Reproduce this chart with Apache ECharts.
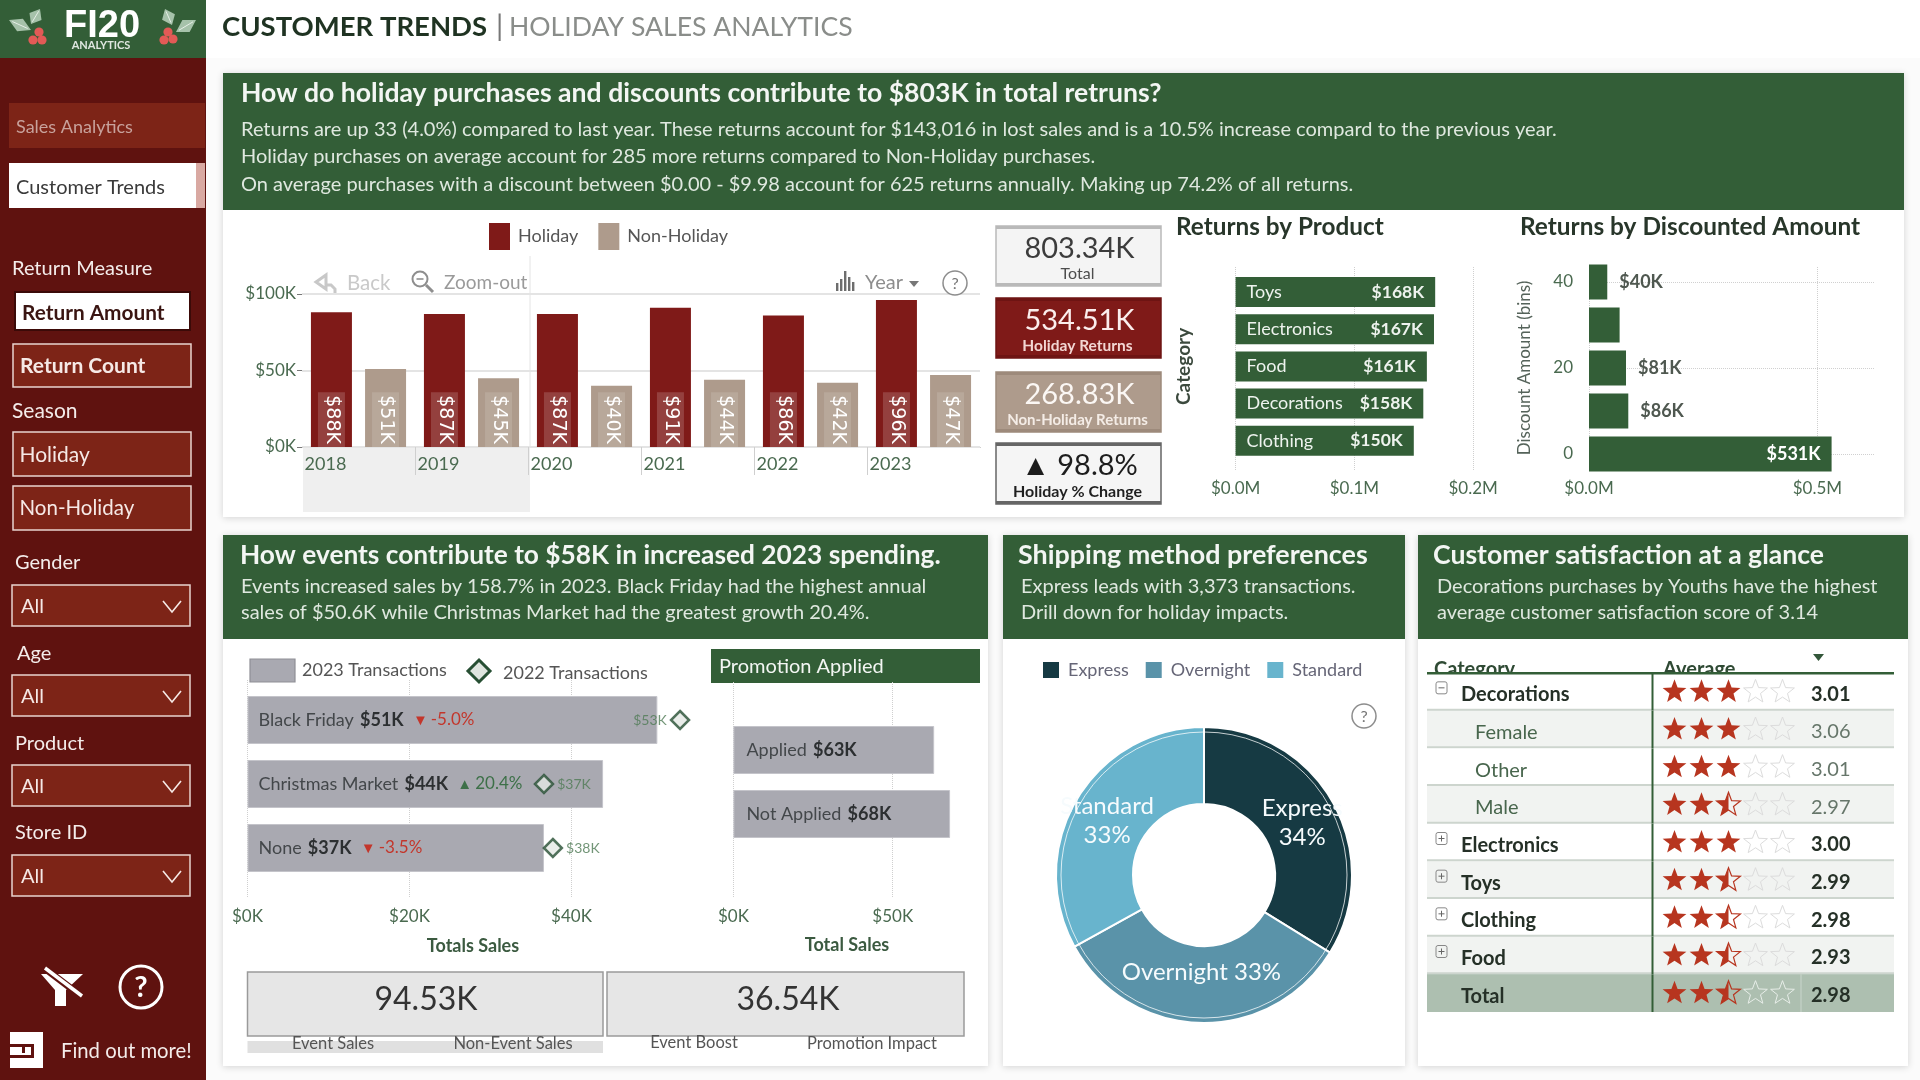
<!DOCTYPE html>
<html>
<head>
<meta charset="utf-8">
<title>Customer Trends | Holiday Sales Analytics</title>
<style>html,body{margin:0;padding:0;background:#fbfbfb}#chart{width:1920px;height:1080px}</style>
<script src="https://cdn.jsdelivr.net/npm/echarts@6/dist/echarts.min.js"></script>
</head>
<body>
<div id="chart"></div>
<script>
// Yearly returns, thousands of dollars
const years = ['2018', '2019', '2020', '2021', '2022', '2023'];
const holidayReturns = [88, 87, 87, 91, 86, 96];
const nonHolidayReturns = [51, 45, 40, 44, 42, 47];

// Returns by product, millions of dollars
const productNames = ['Toys', 'Electronics', 'Food', 'Decorations', 'Clothing'];
const productReturns = [0.168, 0.167, 0.161, 0.158, 0.150];

// Returns by discount bin, millions of dollars
const discountBins = ['0', '10', '20', '30', '40'];
const discountReturns = [0.531, 0.086, 0.081, 0.067, 0.040];

// Event sales, thousands of dollars
const eventNames = ['Black Friday', 'Christmas Market', 'None'];
const sales2023 = [50.6, 43.9, 36.6];
const sales2022 = [53.4, 36.6, 37.7];
const eventChange = [-5.0, 20.4, -3.5];

// Sales with and without a promotion, thousands of dollars
const promoNames = ['Applied', 'Not Applied'];
const promoSales = [63, 68];

// Transactions per shipping method
const shipNames = ['Express', 'Overnight', 'Standard'];
const shipCounts = [3373, 3313, 3299];

// Satisfaction table
const tableRows = ['Decorations', 'Female', 'Other', 'Male', 'Electronics', 'Toys', 'Clothing', 'Food', 'Total'];
const tableAverage = [3.01, 3.06, 3.01, 2.97, 3.00, 2.99, 2.98, 2.93, 2.98];
const tableLevel = [0, 1, 1, 1, 0, 0, 0, 0, 2];

// Filter names shown in the side panel
const slicerNames = ['Gender', 'Age', 'Product', 'Store ID'];

const GREEN = '#335e37', RED = '#7f1a18', TAN = '#ae9b8c', SIDE = '#5f120f', BTN = '#7d2417', GREY = '#a9a9b1';
const FONT = 'Lato, "Noto Sans", sans-serif';

const g = [];
function T(text, x, y, size, fill, opt) {
  opt = opt || {};
  g.push({ type: 'text', z: opt.z === undefined ? 4 : opt.z, silent: true,
    style: { text, x, y, fill, font: (opt.weight || 'normal') + ' ' + size + 'px ' + (opt.font || FONT),
      textAlign: opt.align || 'left', textVerticalAlign: 'middle' } });
}
function R(x, y, w, h, fill, stroke, lw, opt) {
  opt = opt || {};
  g.push({ type: 'rect', z: opt.z === undefined ? -2 : opt.z, silent: true, shape: { x, y, width: w, height: h },
    style: Object.assign({ fill, stroke: stroke || null, lineWidth: lw || 0 }, opt.style || {}) });
}
function L(points, stroke, lw, opt) {
  opt = opt || {};
  g.push({ type: 'polyline', z: opt.z === undefined ? 3 : opt.z, silent: true, shape: { points }, style: { stroke, lineWidth: lw, fill: null } });
}
function P(points, fill, opt) {
  opt = opt || {};
  g.push({ type: 'polygon', z: opt.z === undefined ? 3 : opt.z, silent: true, shape: { points }, style: { fill, stroke: opt.stroke || null, lineWidth: opt.lw || 0 } });
}
function C(cx, cy, r, fill, stroke, lw, z) {
  g.push({ type: 'circle', z: z === undefined ? 3 : z, silent: true, shape: { cx, cy, r }, style: { fill: fill || null, stroke: stroke || null, lineWidth: lw || 0 } });
}
function leaf(ax, ay, bx, by, w) {
  const dx = bx - ax, dy = by - ay, n = Math.hypot(dx, dy), ox = -dy / n * w, oy = dx / n * w;
  P([[ax, ay], [ax + dx * .5 + ox, ay + dy * .5 + oy], [bx, by], [ax + dx * .5 - ox, ay + dy * .5 - oy]], '#a6c2aa');
  L([[ax + dx * .15, ay + dy * .15], [ax + dx * .85, ay + dy * .85]], '#e6efe7', 1);
}
function helpMark(cx, cy, r) {
  C(cx, cy, r, '#fff', '#8d8d8d', 1.5);
  T('?', cx, cy + 1, r * 1.35, '#777', { align: 'center' });
}

// Page frame and side panel
R(0, 0, 1920, 58, '#ffffff', null, 0, { z: -6 });
R(0, 0, 206, 1080, SIDE, null, 0, { z: -3 });
R(0, 0, 206, 58, GREEN, null, 0);
T('CUSTOMER TRENDS', 222, 27, 27.5, '#1f3322', { weight: 'bold' });
T('|', 496, 27, 29, '#777');
T('HOLIDAY SALES ANALYTICS', 509, 27, 26.6, '#8a8d8a');

// Logo
T('FI20', 102, 27, 38, '#fff', { weight: 'bold', align: 'center', font: '"Liberation Sans"' });
T('ANALYTICS', 101, 45, 11, '#dfe7e0', { weight: 'bold', align: 'center' });
leaf(9, 20, 31, 30, 7); leaf(31, 24, 40, 9, 7);
leaf(196, 20, 176, 32, 7); leaf(172, 25, 165, 9, 7);
[[39, 32], [33, 40], [42, 40], [168, 32], [164, 40], [173, 39]].forEach(b => C(b[0], b[1], 4.6, '#e25a56'));

// Side panel navigation and slicers
R(9, 103, 196, 45, BTN);
T('Sales Analytics', 16, 127, 18, '#c8a29c');
R(9, 163, 196, 45, '#ffffff');
R(196, 163, 9, 45, '#d9a9a2');
T('Customer Trends', 16, 188, 20, '#3a3a3a');
T('Return Measure', 12, 269, 20, '#f4ecea');
R(15, 292, 175, 38, '#ffffff', '#3b0a08', 2);
T('Return Amount', 22, 313, 20.8, '#3a1512', { weight: 'bold' });
R(13, 344, 178, 43, BTN, '#e9d3cf', 1.5);
T('Return Count', 20, 366, 21, '#f6e9e6', { weight: 'bold' });
T('Season', 12, 411, 21, '#f4ecea');
R(13, 432, 178, 44, BTN, '#e9d3cf', 1.5);
T('Holiday', 19.5, 455, 21, '#f6e9e6');
R(13, 486, 178, 44, BTN, '#e9d3cf', 1.5);
T('Non-Holiday', 19.5, 508, 20.5, '#f6e9e6');
slicerNames.forEach((name, i) => {
  const top = [585, 675, 765, 855][i], tx = [15, 17, 15, 15][i], ty = [563, 654, 744, 833][i];
  T(name, tx, ty, 20, '#f4ecea');
  R(12, top, 178, 41, BTN, '#e9d3cf', 1.5);
  T('All', 21, top + 22, 20, '#f6e9e6');
  L([[163, top + 16], [172, top + 27], [181, top + 16]], '#f6e9e6', 1.6);
});

// Clear-filter and help icons, report link
P([[41, 974], [83, 974], [66, 990], [66, 1006], [55, 1006], [55, 990]], '#fff');
L([[43, 967], [81, 996]], SIDE, 7);
L([[45, 968], [82, 996]], '#fff', 3.5);
C(141, 987, 21, null, '#fff', 3);
T('?', 141, 988, 29, '#fff', { weight: 'bold', align: 'center' });
R(10, 1032, 33, 36, '#fff');
R(10, 1044, 24, 3, SIDE, null, 0, { z: 1 }); R(22, 1047, 3, 6, SIDE, null, 0, { z: 1 });
R(10, 1055, 24, 3, SIDE, null, 0, { z: 1 }); R(31, 1047, 3, 8, SIDE, null, 0, { z: 1 });
T('Find out more!', 61, 1051, 20.3, '#f4ecea');

// Report panels
const shadow = { shadowBlur: 7, shadowColor: 'rgba(0,0,0,.16)', shadowOffsetY: 1 };
function panel(x, y, w, h, head) {
  R(x, y, w, h, '#ffffff', null, 0, { z: -4, style: shadow });
  R(x, y, w, head, GREEN, null, 0, { z: -3 });
}
panel(223, 73, 1681, 444, 137);
panel(223, 535, 765, 531, 104);
panel(1003, 535, 402, 531, 104);
panel(1418, 535, 490, 531, 104);

const HEAD = '#f3f6f3', SUB = '#dfe8df', HS = 26.6, SS = 20;
T('How do holiday purchases and discounts contribute to $803K in total retruns?', 241, 93, HS, HEAD, { weight: 'bold' });
T('Returns are up 33 (4.0%) compared to last year. These returns account for $143,016 in lost sales and is a 10.5% increase compard to the previous year.', 241, 129.5, SS, SUB);
T('Holiday purchases on average account for 285 more returns compared to Non-Holiday purchases.', 241, 157, SS, SUB);
T('On average purchases with a discount between $0.00 - $9.98 account for 625 returns annually. Making up 74.2% of all returns.', 241, 184.5, SS, SUB);
T('How events contribute to $58K in increased 2023 spending.', 240, 555.5, 26.3, HEAD, { weight: 'bold' });
T('Events increased sales by 158.7% in 2023. Black Friday had the highest annual', 241, 587, SS, SUB);
T('sales of $50.6K while Christmas Market had the greatest growth 20.4%.', 241, 613, SS, SUB);
T('Shipping method preferences', 1018, 555.5, 26.9, HEAD, { weight: 'bold' });
T('Express leads with 3,373 transactions.', 1021, 587, SS, SUB);
T('Drill down for holiday impacts.', 1021, 613, SS, SUB);
T('Customer satisfaction at a glance', 1433, 555.5, HS, HEAD, { weight: 'bold' });
T('Decorations purchases by Youths have the highest', 1437, 587, SS, SUB);
T('average customer satisfaction score of 3.14', 1437, 613, SS, SUB);

// Drill selection band and visual toolbar
R(303, 447, 227, 65, '#efefef', null, 0, { z: -1 });
L([[530, 256], [530, 447]], '#e4e4e4', 1, { z: -1 });
L([[326, 287], [326, 275], [316, 282], [326, 289], [326, 285], [331, 285], [335, 289], [335, 293]], '#c8c8c8', 3);
T('Back', 347, 283, 20.5, '#c9c9c9');
C(420, 279, 7.5, '#fff', '#8e8e8e', 2);
L([[416.5, 279], [423.5, 279]], '#8e8e8e', 1.6);
L([[426, 285], [433, 292]], '#8e8e8e', 3);
T('Zoom-out', 444, 283, 19, '#9a9a9a');
[[836, 8], [840, 12], [844, 20], [848, 14], [852, 9]].forEach(b => R(b[0], 291 - b[1], 2.4, b[1], '#6d6d6d', null, 0, { z: 3 }));
T('Year', 865, 283, 20, '#8d8d8d');
P([[909, 281], [919, 281], [914, 287]], '#777');
helpMark(955, 283, 12);
// The year axis has no tick at its two outer edges
R(300, 448, 3, 30, '#ffffff', null, 0, { z: 8 });
R(977, 448, 6, 30, '#ffffff', null, 0, { z: 8 });

// KPI cards
function kpi(x, y, w, h, fill, value, label, color, lab, border, tw, weight) {
  R(x, y, w, h, fill, border, 1.5, { z: -1 });
  R(x, y, w, 3, border, null, 0, { z: -1 });
  R(x, y + h - 3, w, 3, border, null, 0, { z: -1 });
  T(value, x + w / 2 + 1, y + 23, 29, color, { align: 'center' });
  T(label, x + w / 2 - 1, y + h - 12, tw, lab, { align: 'center', weight });
}
kpi(996, 226, 165, 60, '#f4f4f4', '803.34K', 'Total', '#3c3c3c', '#4d4d4d', '#b9b9b9', 16, 'normal');
kpi(996, 298, 165, 60, RED, '534.51K', 'Holiday Returns', '#fbeeed', '#f3d6d3', '#6e1413', 15.5, 'bold');
kpi(996, 372, 165, 60, TAN, '268.83K', 'Non-Holiday Returns', '#fbf7f4', '#f4ece6', '#9d8a7b', 15, 'bold');
kpi(996, 443, 165, 61, '#f5f5f5', '▲ 98.8%', 'Holiday % Change', '#1d1d1d', '#1f1f1f', '#666666', 16, 'bold');

T('Returns by Product', 1176, 227, 24.3, '#28362a', { weight: 'bold' });
T('Returns by Discounted Amount', 1520, 227, 24.4, '#28362a', { weight: 'bold' });

// Event chart captions, cards and legend
R(250, 659, 45, 23, GREY, '#8f8f96', 1.2);
T('2023 Transactions', 302, 670, 18, '#555');
P([[479, 660], [490, 671], [479, 682], [468, 671]], '#dfe5df', { stroke: '#274f33', lw: 3 });
T('2022 Transactions', 503, 673, 18, '#555');
R(711, 649, 269, 34, GREEN);
T('Promotion Applied', 719, 667, 20, '#f3f6f3');
T('Totals Sales', 473, 946, 18, '#3b5a40', { align: 'center', weight: 'bold' });
T('Total Sales', 847, 945, 18, '#3b5a40', { align: 'center', weight: 'bold' });
R(247.5, 972, 355.5, 64, '#e6e6e6', '#9a9a9a', 1.5);
R(607, 972, 357, 64, '#e6e6e6', '#9a9a9a', 1.5);
T('94.53K', 426, 1000, 32, '#333', { align: 'center' });
T('36.54K', 788, 1000, 32, '#333', { align: 'center' });
R(247.5, 1041, 355.5, 12, '#e0e0e0');
T('Event Sales', 333, 1044, 16.5, '#555', { align: 'center' });
T('Non-Event Sales', 513, 1044, 16.5, '#555', { align: 'center' });
T('Event Boost', 694, 1043, 16.5, '#555', { align: 'center' });
T('Promotion Impact', 872, 1044, 16.5, '#555', { align: 'center' });

// Donut help mark and hairline just inside the rim
helpMark(1364, 716, 12);
g.push({ type: 'circle', z: 6, silent: true, shape: { cx: 1204, cy: 875, r: 143 }, style: { fill: null, stroke: 'rgba(255,255,255,.75)', lineWidth: 1 } });

// Satisfaction table header
T('Category', 1434, 670, 20, '#2f4a34', { weight: 'bold', z: -1 });
T('Average', 1663, 670, 20, '#2f4a34', { weight: 'bold', z: -1 });
P([[1813, 654], [1824, 654], [1818.5, 661]], '#33573a', { z: 4 });

function starPoints(cx, cy, r) {
  const pts = [];
  for (let i = 0; i < 10; i++) {
    const rad = i % 2 ? r * .42 : r, a = -Math.PI / 2 + i * Math.PI / 5;
    pts.push([cx + rad * Math.cos(a), cy + rad * Math.sin(a)]);
  }
  return pts;
}

function renderRow(params, api) {
  const i = api.value(0), avg = api.value(1), lvl = tableLevel[i];
  const cy = api.coord([0, i])[1], h = api.size([0, 1])[1], top = cy - h / 2;
  const stripe = lvl === 2 ? '#adbfb0' : (i % 2 ? '#f1f3f1' : '#ffffff');
  const kids = [{ type: 'rect', shape: { x: 1427, y: top, width: 467, height: h }, style: { fill: stripe } }];
  if (lvl !== 2) kids.push({ type: 'rect', shape: { x: 1427, y: top + h - 2, width: 467, height: 2.5 }, style: { fill: '#cdd5ce' } });
  kids.push({ type: 'rect', shape: { x: 1651.5, y: top, width: 2, height: h }, style: { fill: '#335e37' } });
  if (lvl === 2) kids.push({ type: 'rect', shape: { x: 1800.5, y: top, width: 1, height: h }, style: { fill: '#c9d5cb' } });
  const bold = lvl !== 1, ink = bold ? '#253027' : '#48664d', valInk = bold ? '#253027' : '#66766a';
  const family = (bold ? 'bold ' : '') + '20px ' + FONT;
  kids.push({ type: 'text', style: { text: tableRows[i], x: lvl === 1 ? 1475 : 1461, y: cy + 3, fill: ink, font: family, textVerticalAlign: 'middle' } });
  if (lvl === 0) {
    const ix = 1436, iy = cy - 10;
    kids.push({ type: 'rect', shape: { x: ix, y: iy, width: 11, height: 12, r: 2 }, style: { fill: 'none', stroke: '#888', lineWidth: 1 } });
    kids.push({ type: 'rect', shape: { x: ix + 2.5, y: iy + 5.5, width: 6, height: 1 }, style: { fill: '#666' } });
    if (i !== 0) kids.push({ type: 'rect', shape: { x: ix + 5, y: iy + 3, width: 1, height: 6 }, style: { fill: '#666' } });
  }
  // Stars round down to the nearest half
  const filled = Math.floor(avg * 2) / 2;
  for (let s = 0; s < 5; s++) {
    const cx = api.coord([s + .5, i])[0] + 1, pts = starPoints(cx, cy, 12.5);
    if (s + 1 <= filled) {
      kids.push({ type: 'polygon', shape: { points: pts }, style: { fill: '#b7351f' } });
    } else if (s + .5 <= filled) {
      kids.push({ type: 'polygon', shape: { points: pts }, style: { fill: 'none', stroke: '#b7351f', lineWidth: 1.2 } });
      kids.push({ type: 'polygon', shape: { points: [pts[5], pts[6], pts[7], pts[8], pts[9], pts[0]] }, style: { fill: '#b7351f' } });
    } else {
      kids.push({ type: 'polygon', shape: { points: pts }, style: { fill: 'none', stroke: lvl === 2 ? '#e8eee9' : '#dcdcdc', lineWidth: 1 } });
    }
  }
  kids.push({ type: 'text', style: { text: avg.toFixed(2), x: 1811, y: cy + 2.5, fill: valInk, font: family, textVerticalAlign: 'middle' } });
  return { type: 'group', children: kids };
}

const axisInk = '#4a6a50';
const dotted = { show: true, lineStyle: { type: 'dotted', color: '#cfcfcf', width: 1 } };
const money = v => '$' + Math.round(v) + 'K';
const millions = v => '$' + v.toFixed(1) + 'M';
const tickFont = { color: axisInk, fontFamily: FONT, fontSize: 17 };

// Axes that only carry the dotted guides and tick labels of a horizontal bar chart
function guideX(gridIndex, max, interval, fmt, keepMax) {
  return { type: 'value', gridIndex, min: 0, max, interval, axisLine: { show: false }, axisTick: { show: false },
    axisLabel: Object.assign({ formatter: fmt, margin: 10, showMaxLabel: !!keepMax }, tickFont),
    splitLine: Object.assign({ showMaxLine: !!keepMax }, dotted) };
}
function hiddenX(gridIndex, max) { return { type: 'value', gridIndex, min: 0, max, show: false, splitLine: { show: false } }; }
function guideY(gridIndex) { return { type: 'value', gridIndex, min: 0, max: 1, show: false, splitLine: { show: false } }; }
function rowsY(gridIndex, data) { return { type: 'category', gridIndex, data, inverse: true, show: false }; }

function barLabel(bg) {
  return { show: true, position: 'insideBottom', distance: 0, rotate: -90, align: 'right', verticalAlign: 'middle',
    formatter: p => '$' + p.value + 'K', color: '#fff', fontFamily: 'DejaVu Sans', fontSize: 19,
    backgroundColor: bg, padding: [4, 3, 4, 3] };
}

const discountLabelFont = { color: '#4f5850', fontFamily: FONT, fontSize: 18, fontWeight: 'bold' };

const option = {
  animation: false,
  backgroundColor: 'transparent',
  textStyle: { fontFamily: FONT },
  graphic: { elements: g },
  legend: [
    { left: 489, top: 223, padding: 0, icon: 'rect', itemWidth: 21, itemHeight: 27, itemGap: 20, selectedMode: false,
      data: ['Holiday', 'Non-Holiday'], textStyle: { color: '#555', fontSize: 18, fontFamily: FONT, padding: [0, 0, 0, 3] } },
    { left: 1041, top: 660, padding: 0, icon: 'rect', itemWidth: 18, itemHeight: 18, itemGap: 15, selectedMode: false,
      data: shipNames, textStyle: { color: '#667', fontSize: 18, fontFamily: FONT, padding: [0, 0, 0, 3] } }
  ],
  grid: [
    { left: 302, top: 294, width: 678, height: 153 },
    { left: 1235.6, top: 267, width: 237.6, height: 203 },
    { left: 1235.6, top: 273.4, width: 237.6, height: 186 },
    { left: 1589, top: 267, width: 286, height: 203 },
    { left: 247.5, top: 680, width: 486, height: 218 },
    { left: 247.5, top: 688, width: 486, height: 192 },
    { left: 733.4, top: 682, width: 239, height: 216 },
    { left: 733.4, top: 718, width: 239, height: 128 },
    { left: 1660, top: 673, width: 135, height: 339 },
    { left: 1589, top: 260.5, width: 286, height: 215 }
  ],
  xAxis: [
    { type: 'category', gridIndex: 0, data: years, axisLine: { show: false },
      axisTick: { show: true, length: 28, lineStyle: { color: '#cfcfcf' } },
      axisLabel: { color: axisInk, fontFamily: FONT, fontSize: 18, margin: 8, padding: [0, 66, 0, 0] } },
    guideX(1, 0.2, 0.1, millions, true), hiddenX(2, 0.2),
    guideX(3, 0.626, 0.5, millions),
    guideX(4, 60, 20, money), hiddenX(5, 60),
    guideX(6, 75, 50, money), hiddenX(7, 75),
    { type: 'value', gridIndex: 8, min: 0, max: 5, show: false, splitLine: { show: false } },
    hiddenX(9, 0.626)
  ],
  yAxis: [
    { type: 'value', gridIndex: 0, min: 0, max: 100, interval: 50, axisLine: { show: false },
      axisTick: { show: true, length: 5, lineStyle: { color: '#777' } },
      axisLabel: Object.assign({ formatter: v => '$' + v + 'K', margin: 6, padding: [4, 0, 0, 0] }, tickFont),
      splitLine: { show: true, lineStyle: { color: '#e4e4e4', width: 2 } } },
    guideY(1),
    { type: 'category', gridIndex: 2, data: productNames, inverse: true, axisLine: { show: false }, axisTick: { show: false }, axisLabel: { show: false },
      name: 'Category', nameLocation: 'middle', nameGap: 42, nameRotate: 90, nameTextStyle: { color: '#3c4a3e', fontSize: 19, fontFamily: FONT, fontWeight: 'bold' } },
    guideY(3),
    guideY(4), rowsY(5, eventNames),
    guideY(6), rowsY(7, promoNames),
    { type: 'category', gridIndex: 8, data: tableRows, inverse: true, show: false },
    { type: 'category', gridIndex: 9, data: discountBins, axisLine: { show: false }, axisTick: { show: false }, splitLine: { show: false },
      axisLabel: Object.assign({ margin: 16, interval: 1 }, tickFont),
      name: 'Discount Amount (bins)', nameLocation: 'middle', nameGap: 56, nameRotate: 90, nameTextStyle: { color: '#55635a', fontSize: 17, fontFamily: FONT } }
  ],
  series: [
    { name: 'Holiday', type: 'bar', xAxisIndex: 0, yAxisIndex: 0, data: holidayReturns, barWidth: 41, barGap: '32%', itemStyle: { color: RED },
      label: barLabel('rgba(255,255,255,.17)') },
    { name: 'Non-Holiday', type: 'bar', xAxisIndex: 0, yAxisIndex: 0, data: nonHolidayReturns, barWidth: 41, itemStyle: { color: TAN },
      label: barLabel('rgba(255,255,255,.13)') },

    { type: 'bar', xAxisIndex: 2, yAxisIndex: 2, data: productReturns, barWidth: 30, itemStyle: { color: GREEN },
      label: { show: true, position: 'insideLeft', distance: 11, formatter: p => productNames[p.dataIndex], color: '#eef3ee', fontFamily: FONT, fontSize: 18 } },
    { type: 'bar', xAxisIndex: 2, yAxisIndex: 2, data: productReturns, barWidth: 30, barGap: '-100%', itemStyle: { color: 'transparent' },
      label: { show: true, position: 'insideRight', distance: 11, formatter: p => '$' + Math.round(p.value * 1000) + 'K', color: '#eef3ee', fontFamily: FONT, fontSize: 17.5, fontWeight: 'bold' } },

    { type: 'bar', xAxisIndex: 9, yAxisIndex: 9, barWidth: 35, clip: false, itemStyle: { color: GREEN },
      data: discountReturns.map((v, i) => {
        const bin = discountBins[i], item = { value: v }, text = '$' + Math.round(v * 1000) + 'K';
        if (bin === '30') item.label = { show: false };
        else if (bin === '0') item.label = Object.assign({}, discountLabelFont, { show: true, position: 'insideRight', distance: 11, formatter: text, color: '#fff' });
        else item.label = Object.assign({}, discountLabelFont, { show: true, position: 'right', distance: 12, formatter: text });
        return item;
      }),
      markLine: { silent: true, symbol: 'none', label: { show: false }, z: 1, lineStyle: { type: 'dotted', color: '#d0d0d0', width: 1 },
        data: [{ yAxis: '0' }, { yAxis: '20' }, { yAxis: '40' }] } },

    { type: 'bar', xAxisIndex: 5, yAxisIndex: 5, data: sales2023, barWidth: 48, itemStyle: { color: GREY, borderColor: '#c4c4ca', borderWidth: 1 },
      label: { show: true, position: 'insideLeft', distance: 11,
        formatter: p => {
          const c = eventChange[p.dataIndex], up = c > 0;
          return '{n|' + p.name + '}  {v|' + money(p.value) + '}   ' + (up ? '{a|▲} {u|' + c.toFixed(1) + '%}' : '{b|▼} {d|' + c.toFixed(1) + '%}');
        },
        rich: {
          n: { color: '#43474a', fontFamily: FONT, fontSize: 18 },
          v: { color: '#2c2f31', fontFamily: FONT, fontSize: 18, fontWeight: 'bold' },
          u: { color: '#3d7048', fontFamily: FONT, fontSize: 17 },
          d: { color: '#c3362b', fontFamily: FONT, fontSize: 17 },
          a: { color: '#3d7048', fontSize: 15 },
          b: { color: '#c3362b', fontSize: 15 }
        } } },
    { type: 'scatter', xAxisIndex: 5, yAxisIndex: 5, symbol: 'diamond', symbolSize: [18, 18], z: 5, clip: false,
      itemStyle: { color: '#e5e9e5', borderColor: '#274f33', borderWidth: 2.5 },
      data: sales2022.map((v, i) => ({ value: [v, eventNames[i]],
        label: { show: true, position: i === 0 ? 'left' : 'right', distance: 3, formatter: money(v), color: '#4f7a55', fontFamily: FONT, fontSize: 14 } })) },

    { type: 'bar', xAxisIndex: 7, yAxisIndex: 7, data: promoSales, barWidth: 48, itemStyle: { color: GREY, borderColor: '#c4c4ca', borderWidth: 1 },
      label: { show: true, position: 'insideLeft', distance: 13,
        formatter: p => '{n|' + p.name + '}  {v|' + money(p.value) + '}',
        rich: { n: { color: '#43474a', fontFamily: FONT, fontSize: 18 }, v: { color: '#2c2f31', fontFamily: FONT, fontSize: 18, fontWeight: 'bold' } } } },

    { type: 'pie', center: [1204, 875], radius: [71, 148], startAngle: 90, z: 4, silent: true,
      itemStyle: { borderColor: '#ffffff', borderWidth: 2 },
      data: shipNames.map((n, i) => ({ name: n, value: shipCounts[i], itemStyle: { color: ['#163a43', '#5a93a9', '#68b4cd'][i] } })),
      label: { show: true, position: 'inside', color: '#f6fbfd', fontFamily: FONT, fontSize: 24, lineHeight: 29,
        formatter: p => p.name + (p.name === 'Overnight' ? ' ' : '\n') + Math.round(p.percent) + '%' },
      labelLayout: p => (p.dataIndex === 1 ? { dy: -15 } : { dy: 3 }),
      labelLine: { show: false } },

    { type: 'custom', xAxisIndex: 8, yAxisIndex: 8, clip: false, silent: true, renderItem: renderRow,
      encode: { y: 0 }, data: tableRows.map((r, i) => [i, tableAverage[i]]) }
  ]
};

// Header rule sits on top of the table rows
g.push({ type: 'rect', z: 8, silent: true, shape: { x: 1427, y: 672, width: 467, height: 2.5 }, style: { fill: '#335e37' } });

echarts.init(document.getElementById('chart')).setOption(option);
</script>
</body>
</html>
